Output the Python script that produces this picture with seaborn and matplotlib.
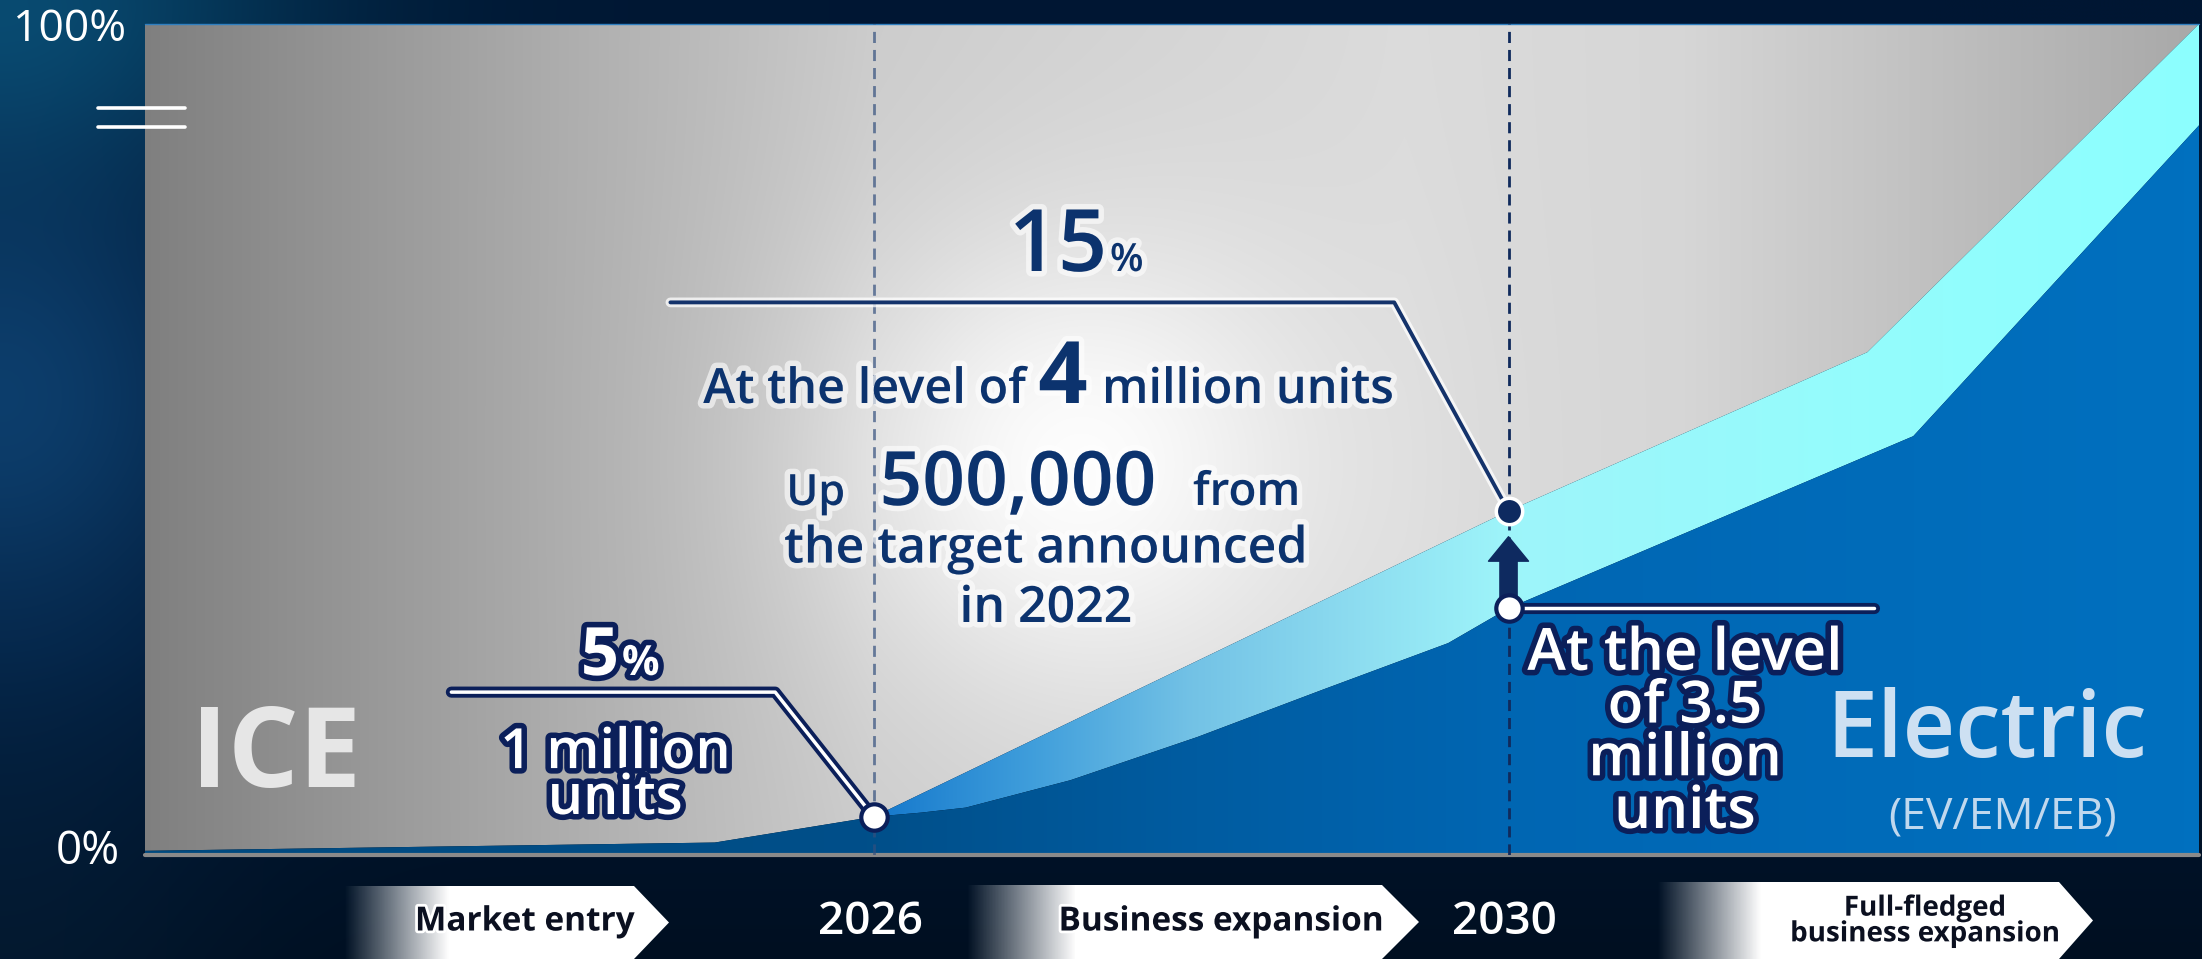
import numpy as np
import matplotlib
matplotlib.use('Agg')
import matplotlib.pyplot as plt
import matplotlib.patheffects as pe
from matplotlib.patches import Polygon
import seaborn as sns

# ---- data (x = year, y = share of sales in % of axis height) ----
years_plan22 = [2021.41, 2025.0, 2026.0, 2026.3, 2026.58, 2027.24, 2028.04, 2028.83, 2029.62,
                2030.0, 2032.55, 2034.35]
share_plan22 = [0.5, 1.5, 4.6, 5.1, 5.7, 9.0, 14.2, 19.9, 25.5, 29.7, 50.4, 87.8]
years_plan24 = [2026.0, 2030.0, 2032.26, 2034.35]
share_plan24 = [4.6, 41.4, 60.5, 100.0]
milestone_years = ['2026', '2030']
phase_labels = ['Market entry', 'Business expansion', 'Full-fledged\nbusiness expansion']

XMIN, XMAX = years_plan22[0], years_plan22[-1]
W, H = 2202, 959
NAVY = '#0c336e'
DARK = '#0b1f5a'

sns.set_style('white')
plt.rcParams['font.family'] = ['Open Sans', 'DejaVu Sans']

fig = plt.figure(figsize=(W / 100, H / 100), dpi=100)

# background (pixel coords)
bg = fig.add_axes([0, 0, 1, 1], zorder=0)
bg.set_xlim(0, W); bg.set_ylim(H, 0); bg.axis('off')
px, py = np.meshgrid(np.linspace(0, W, 551), np.linspace(0, H, 240))
gl = np.exp(-(px / 240) ** 2) * (0.25 + 0.75 * np.exp(-((py - 400) / 220) ** 2))
gt = np.exp(-(px / 320) ** 2 - (py / 170) ** 2)
fb = np.clip((py - 650) / 309, 0, 1)
bgimg = np.dstack([0.0 + gl * 0.05 + gt * 0.02,
                   0.09 + gl * 0.15 + gt * 0.16 - fb * 0.03,
                   0.20 + gl * 0.22 + gt * 0.18 - fb * 0.07])
bg.imshow(np.clip(bgimg, 0, 1), extent=(0, W, H, 0), aspect='auto', interpolation='bicubic')

# chevrons for the phases
chevrons = [(344, 448, 634, 669, 886), (966, 1075, 1382, 1419, 885), (1657, 1760, 2059, 2093, 882)]
label_pos = [(525, 922), (1221, 922), (1925, 921)]
for (x0, xw, xr, xt, top), lab, (lx, ly) in zip(chevrons, phase_labels, label_pos):
    verts = [(x0, top), (xr, top), (xt, (top + H) / 2), (xr, H), (x0, H)]
    poly = Polygon(verts, closed=True, facecolor='none', edgecolor='none')
    bg.add_patch(poly)
    ramp = np.clip((np.linspace(x0, xt, 300) - x0) / (xw - x0), 0, 1)
    rgba = np.ones((2, 300, 4))
    rgba[..., 3] = ramp
    im = bg.imshow(rgba, extent=(x0, xt, H, top), aspect='auto')
    im.set_clip_path(poly)
    fs = 20 if '\n' in lab else 24
    bg.text(lx, ly, lab, ha='center', va='center', fontsize=fs, color='#0b1020',
            fontweight='bold', linespacing=0.85,
            path_effects=[pe.withStroke(linewidth=4, foreground='white')])

for lab, x in zip(milestone_years, [870, 1504]):
    bg.text(x, 922, lab, ha='center', va='center', fontsize=33, color='white', fontweight='semibold')
bg.text(70, 30, '100%', ha='center', va='center', fontsize=32, color='white')
bg.text(88, 852, '0%', ha='center', va='center', fontsize=33, color='white')

# main chart
ax = fig.add_axes([145 / W, 1 - 855 / H, (2199 - 145) / W, (855 - 24) / H], zorder=1)
ax.set_xlim(XMIN, XMAX); ax.set_ylim(0, 100)
ax.axis('off')

xs = np.linspace(XMIN, XMAX, 800)
ys = np.linspace(0, 100, 400)
X, Y = np.meshgrid(xs, ys)


def grad_fill(verts, img):
    poly = Polygon(verts, closed=True, facecolor='none', edgecolor='none')
    ax.add_patch(poly)
    im = ax.imshow(img, extent=(XMIN, XMAX, 0, 100), origin='lower', aspect='auto',
                   interpolation='bilinear', zorder=1)
    im.set_clip_path(poly)


def hgrad(stops, cols):
    return np.dstack([np.interp(X, stops, [c[i] for c in cols]) for i in range(3)])


# ICE (grey with glow)
base = np.interp(X, [2021.41, 2024.04, 2026, 2029.35, 2031.1, 2034.35],
                 [0.50, 0.68, 0.80, 0.86, 0.84, 0.66])
glow = np.exp(-((X - 2027.3) / 1.5) ** 2 - ((Y - 47) / 28) ** 2)
v = base + (1 - base) * 0.95 * glow
ice_verts = [(x, y) for x, y in zip(years_plan22, share_plan22) if x <= 2026]
ice_verts += list(zip(years_plan24[1:], share_plan24[1:])) + [(XMIN, 100)]
grad_fill(ice_verts, np.dstack([v, v, v]))

# upgraded target band (cyan)
cyan_verts = list(zip(years_plan24, share_plan24))
cyan_verts += [(x, y) for x, y in zip(years_plan22[::-1], share_plan22[::-1]) if x >= 2026]
grad_fill(cyan_verts, hgrad([2026, 2027, 2028, 2029, 2030, 2032.3, 2034.35],
                            [(0.08, 0.47, 0.80), (0.25, 0.62, 0.86), (0.45, 0.76, 0.90),
                             (0.55, 0.86, 0.94), (0.62, 0.96, 0.98), (0.58, 0.99, 0.99),
                             (0.55, 1.0, 1.0)]))

# previous target (dark blue)
blue_verts = list(zip(years_plan22, share_plan22)) + [(XMAX, 0), (XMIN, 0)]
grad_fill(blue_verts, hgrad([2021.41, 2026, 2028, 2030, 2034.35],
                            [(0.0, 0.29, 0.50), (0.0, 0.31, 0.54), (0.0, 0.36, 0.63),
                             (0.0, 0.40, 0.70), (0.0, 0.44, 0.75)]))

ax.axhline(0, color='#8a8a8a', lw=3, clip_on=False, zorder=2)
ax.axhline(100, color='#2f7fc0', lw=1, clip_on=False, zorder=2)

# milestone dashed lines
ax.axvline(2026, color='#34507e', alpha=0.7, lw=2, ls=(0, (4, 2.5)), zorder=2)
ax.axvline(2030, color='#102a5c', lw=2, ls=(0, (4, 2.5)), zorder=2)

i26 = years_plan22.index(2026.0)
i30 = years_plan22.index(2030.0)
j30 = years_plan24.index(2030.0)
white_line = [pe.withStroke(linewidth=8, foreground=DARK)]

# leader lines
sns.lineplot(x=[2024.72, 2029.28, 2030], y=[66.5, 66.5, share_plan24[j30]], ax=ax,
             color='#14336b', lw=2.8, zorder=3,
             path_effects=[pe.withStroke(linewidth=7, foreground='white', alpha=0.75)])
sns.lineplot(x=[2023.34, 2025.38, 2026], y=[19.6, 19.6, share_plan22[i26]], ax=ax,
             color='white', lw=2.5, zorder=3, path_effects=white_line)
sns.lineplot(x=[2030, 2032.30], y=[share_plan22[i30], share_plan22[i30]], ax=ax,
             color='white', lw=2.5, zorder=3, path_effects=white_line)

# arrow from old target to new target
ax.annotate('', xy=(2030, share_plan24[j30] - 3.1), xytext=(2030, share_plan22[i30]),
            arrowprops=dict(arrowstyle='simple,head_length=0.44,head_width=0.72,tail_width=0.31',
                            mutation_scale=40, color='#0e2a60', shrinkA=0, shrinkB=0), zorder=4)

ax.plot(2026, share_plan22[i26], 'o', ms=19, mfc='white', mec=DARK, mew=3, zorder=5)
ax.plot(2030, share_plan22[i30], 'o', ms=19, mfc='white', mec=DARK, mew=3, zorder=5)
ax.plot(2030, share_plan24[j30], 'o', ms=19, mfc='#0e2a60', mec='white', mew=2.5, zorder=5)

# annotations (pixel coords overlay)
ov = fig.add_axes([0, 0, 1, 1], zorder=3)
ov.set_xlim(0, W); ov.set_ylim(H, 0); ov.axis('off'); ov.patch.set_alpha(0)
ov.plot([98, 185], [108, 108], color='white', lw=2.6)
ov.plot([98, 185], [127, 127], color='white', lw=2.6)

glow_fx = [pe.withStroke(linewidth=8, foreground='white', alpha=0.6)]
out_fx = [pe.withStroke(linewidth=8, foreground=DARK)]

ov.text(1107, 271, '15', ha='right', va='baseline', fontsize=62, color=NAVY,
        fontweight='semibold', path_effects=glow_fx)
ov.text(1110, 271, '%', ha='left', va='baseline', fontsize=28, color=NAVY,
        fontweight='semibold', path_effects=glow_fx)
ov.text(1026, 403, 'At the level of', ha='right', va='baseline', fontsize=35, color=NAVY,
        fontweight='semibold', path_effects=glow_fx)
ov.text(1063, 403, '4', ha='center', va='baseline', fontsize=62, color=NAVY,
        fontweight='bold', path_effects=glow_fx)
ov.text(1102, 403, 'million units', ha='left', va='baseline', fontsize=35, color=NAVY,
        fontweight='semibold', path_effects=glow_fx)
ov.text(845, 505, 'Up', ha='right', va='baseline', fontsize=31, color=NAVY,
        fontweight='semibold', path_effects=glow_fx)
ov.text(1018, 505, '500,000', ha='center', va='baseline', fontsize=54, color=NAVY,
        fontweight='semibold', path_effects=glow_fx)
ov.text(1193, 505, 'from', ha='left', va='baseline', fontsize=33, color=NAVY,
        fontweight='semibold', path_effects=glow_fx)
# multi-line texts: va='baseline' anchors the last line
ov.text(1046, 622, 'the target announced\nin 2022', ha='center', va='baseline',
        multialignment='center', fontsize=36, linespacing=1.25,
        color=NAVY, fontweight='semibold', path_effects=glow_fx)

ov.text(619, 675, '5', ha='right', va='baseline', fontsize=48, color='white',
        fontweight='bold', path_effects=out_fx)
ov.text(622, 675, '%', ha='left', va='baseline', fontsize=30, color='white',
        fontweight='bold', path_effects=out_fx)
ov.text(615, 814, '1 million\nunits', ha='center', va='baseline', multialignment='center',
        fontsize=40, linespacing=0.76, color='white', fontweight='semibold', path_effects=out_fx)

ov.text(1685, 828, 'At the level\nof 3.5\nmillion\nunits', ha='center', va='baseline',
        multialignment='center', fontsize=42, linespacing=0.88, color='white',
        fontweight='semibold', path_effects=out_fx)

ov.text(276, 758, 'ICE', ha='center', va='center', fontsize=80, color='#e6e6e6',
        fontweight='bold')
ov.text(1987, 733, 'Electric', ha='center', va='center', fontsize=66, color='#cde0f2',
        fontweight='semibold')
ov.text(2003, 817, '(EV/EM/EB)', ha='center', va='center', fontsize=32, color='#c0d8ee')

fig.savefig('out.png', dpi=100, facecolor='#011b3b')
